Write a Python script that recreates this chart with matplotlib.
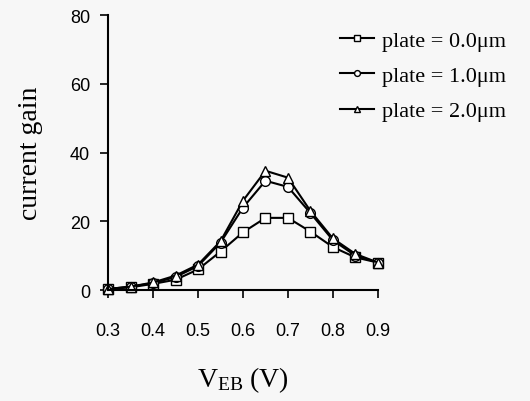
import matplotlib.pyplot as plt

plt.rcParams['mathtext.fontset'] = 'custom'
plt.rcParams['mathtext.rm'] = 'Liberation Serif'

# data
veb = [0.30, 0.35, 0.40, 0.45, 0.50, 0.55, 0.60, 0.65, 0.70, 0.75, 0.80, 0.85, 0.90]
gain_0um = [0.3, 0.8, 1.8, 3.0, 6.0, 11.2, 16.8, 21.0, 21.0, 17.0, 12.5, 9.5, 8.0]
gain_1um = [0.3, 1.0, 2.0, 3.8, 7.0, 13.8, 24.0, 31.8, 30.0, 22.4, 14.5, 10.0, 8.0]
gain_2um = [0.3, 1.0, 2.2, 4.2, 7.4, 14.2, 26.0, 34.7, 32.7, 23.0, 15.0, 10.5, 8.0]
labels = ['plate = 0.0\u03bcm', 'plate = 1.0\u03bcm', 'plate = 2.0\u03bcm']
xticks = [0.3, 0.4, 0.5, 0.6, 0.7, 0.8, 0.9]
yticks = [0, 20, 40, 60, 80]

bg = '#f7f7f7'
fig = plt.figure(figsize=(5.3, 4.02), dpi=100, facecolor=bg)
ax = fig.add_axes([0.204, 0.276, 0.509, 0.684], facecolor=bg)

for ys, m, lab in zip([gain_0um, gain_1um, gain_2um], ['s', 'o', '^'], labels):
    ax.plot(veb, ys, color='black', lw=1.5, marker=m, ms=7, mfc='white',
            mec='black', mew=1.0, clip_on=False, label=lab)

ax.set_xlim(0.3, 0.9)
ax.set_ylim(0, 80)
ax.set_xticks(xticks)
ax.set_yticks(yticks)
ax.set_xticklabels([f'{v:.1f}' for v in xticks])
ax.tick_params(direction='out', length=6, width=1.2, labelsize=13,
               labelfontfamily='Liberation Sans')
ax.tick_params(axis='x', pad=17)
ax.tick_params(axis='y', pad=7)
for s in ['top', 'right']:
    ax.spines[s].set_visible(False)
for s in ['left', 'bottom']:
    ax.spines[s].set_linewidth(1.5)

ax.set_ylabel('current gain', fontsize=20, family='Liberation Serif', labelpad=19)
ax.set_xlabel(r'$\mathrm{V_{EB}}$ (V)', fontsize=20, family='Liberation Serif', labelpad=18)

leg = ax.legend(loc='upper left', bbox_to_anchor=(0.642, 0.922),
                bbox_transform=fig.transFigure, frameon=False,
                borderpad=0, borderaxespad=0,
                prop={'family': 'Liberation Serif', 'size': 16}, handlelength=1.5,
                markerscale=0.6, handletextpad=0.4, labelspacing=0.66)

fig.savefig('out.png', dpi=100, facecolor=bg)
